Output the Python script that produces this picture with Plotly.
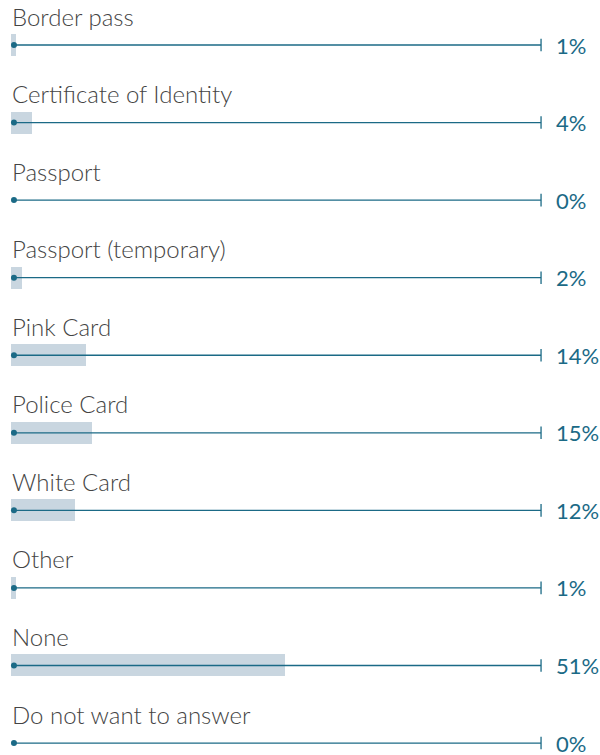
import plotly.graph_objects as go

categories = ["Border pass", "Certificate of Identity", "Passport", "Passport (temporary)",
              "Pink Card", "Police Card", "White Card", "Other", "None", "Do not want to answer"]
values = [1, 4, 0, 2, 14, 15, 12, 1, 51, 0]
value_labels = [f"{v}%" for v in values]

BAR_COLOR = "#c9d6e0"
LINE_COLOR = "#1b6a86"
TEXT_COLOR = "#444444"
W, H = 600, 755
PX_PER_PCT = 5.373
X0_PX = 11
ROW0_PX, ROW_STEP = 45, 77.56
LINE_START, LINE_END = 0.55, 98.65

rows = list(range(len(categories)))

fig = go.Figure()

# background bars
fig.add_trace(go.Bar(
    x=values, y=rows, orientation="h", base=0,
    width=22 / ROW_STEP, marker=dict(color=BAR_COLOR, line_width=0),
    hoverinfo="skip", showlegend=False,
))

# track lines with dot at start and tick at end
for r in rows:
    fig.add_trace(go.Scatter(
        x=[LINE_START, LINE_END], y=[r, r], mode="lines",
        line=dict(color=LINE_COLOR, width=1.3), showlegend=False, hoverinfo="skip",
    ))
fig.add_trace(go.Scatter(
    x=[LINE_START] * len(rows), y=rows, mode="markers",
    marker=dict(color=LINE_COLOR, size=6), showlegend=False, hoverinfo="skip",
))
fig.add_trace(go.Scatter(
    x=[LINE_END] * len(rows), y=rows, mode="markers",
    marker=dict(color=LINE_COLOR, size=9, symbol="line-ns", line=dict(color=LINE_COLOR, width=1.3)),
    showlegend=False, hoverinfo="skip",
))

annotations = []
for r, cat, lab in zip(rows, categories, value_labels):
    annotations.append(dict(
        x=0, xref="paper", xshift=X0_PX - 1, y=r, yref="y", yshift=29,
        text=cat, showarrow=False, xanchor="left", yanchor="middle",
        font=dict(family="Lato", size=24, color=TEXT_COLOR, weight=300),
    ))
    annotations.append(dict(
        x=0, xref="paper", xshift=554, y=r, yref="y", yshift=0,
        text=lab, showarrow=False, xanchor="left", yanchor="middle",
        font=dict(family="Lato", size=22, color=LINE_COLOR, weight=400),
    ))

fig.update_layout(
    width=W, height=H,
    margin=dict(l=0, r=0, t=0, b=0),
    plot_bgcolor="white", paper_bgcolor="white",
    annotations=annotations,
    xaxis=dict(range=[-X0_PX / PX_PER_PCT, (W - X0_PX) / PX_PER_PCT], visible=False, fixedrange=True),
    yaxis=dict(range=[(H - ROW0_PX) / ROW_STEP, -ROW0_PX / ROW_STEP], visible=False, fixedrange=True),
    bargap=0,
)

fig.write_html("out.html", config={"displayModeBar": False},
               post_script="document.body.style.margin='0';document.body.style.overflow='hidden';")
